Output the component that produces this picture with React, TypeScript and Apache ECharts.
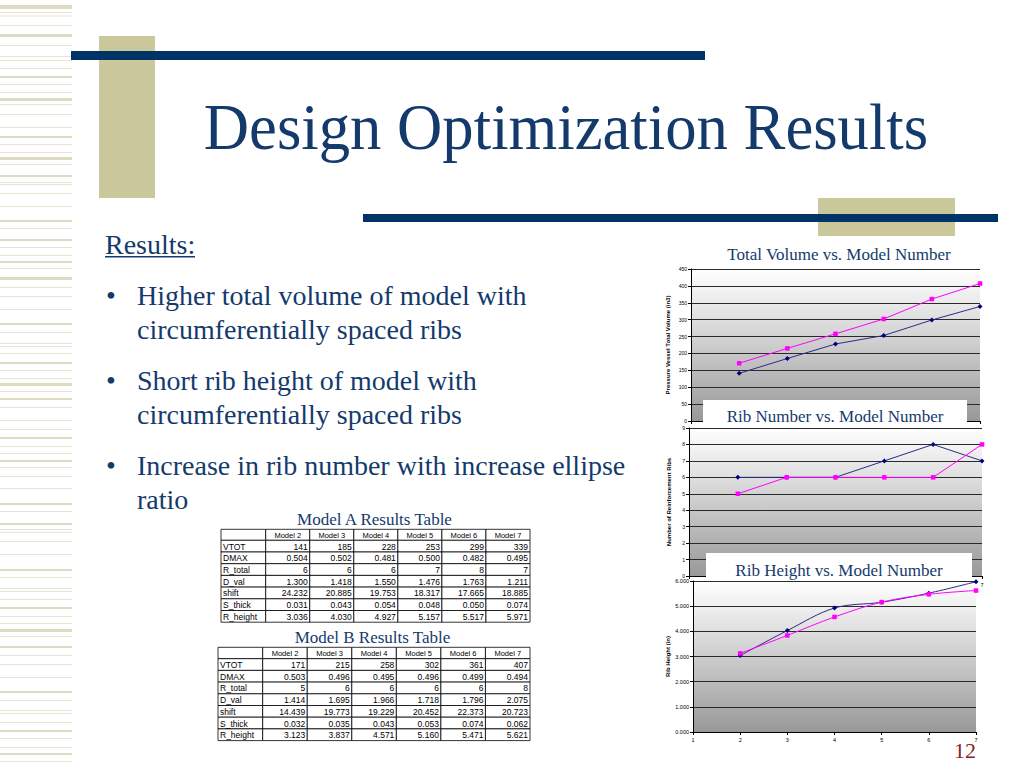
import React, { useEffect, useRef } from "react";
import * as echarts from "echarts";

// ---------- data ----------
const modelNumbers = [2, 3, 4, 5, 6, 7];
const tableHeaders = ["Model 2", "Model 3", "Model 4", "Model 5", "Model 6", "Model 7"];
const rowLabels = ["VTOT", "DMAX", "R_total", "D_val", "shift", "S_thick", "R_height"];
const rowDecimals = [0, 3, 0, 3, 3, 3, 3];

const aVTOT = [141, 185, 228, 253, 299, 339];
const aDMAX = [0.504, 0.502, 0.481, 0.5, 0.482, 0.495];
const aRtotal = [6, 6, 6, 7, 8, 7];
const aDval = [1.3, 1.418, 1.55, 1.476, 1.763, 1.211];
const aShift = [24.232, 20.885, 19.753, 18.317, 17.665, 18.885];
const aSthick = [0.031, 0.043, 0.054, 0.048, 0.05, 0.074];
const aRheight = [3.036, 4.03, 4.927, 5.157, 5.517, 5.971];

const bVTOT = [171, 215, 258, 302, 361, 407];
const bDMAX = [0.503, 0.496, 0.495, 0.496, 0.499, 0.494];
const bRtotal = [5, 6, 6, 6, 6, 8];
const bDval = [1.414, 1.695, 1.966, 1.718, 1.796, 2.075];
const bShift = [14.439, 19.773, 19.229, 20.452, 22.373, 20.723];
const bSthick = [0.032, 0.035, 0.043, 0.053, 0.074, 0.062];
const bRheight = [3.123, 3.837, 4.571, 5.16, 5.471, 5.621];

const slideTitle = "Design Optimization Results";
const resultsHeading = "Results:";
const bulletLines = [
  ["Higher total volume of model with", "circumferentially spaced ribs"],
  ["Short rib height of model with", "circumferentially spaced ribs"],
  ["Increase in rib number with increase ellipse", "ratio"],
];
const chartTitles = ["Total Volume vs. Model Number", "Rib Number vs. Model Number", "Rib Height vs. Model Number"];
const axisNames = ["Pressure Vessel Total Volume (in3)", "Number of Reinforcement Ribs", "Rib Height (in)"];
const tableTitles = ["Model A Results Table", "Model B Results Table"];
const pageNumber = "12";

// ---------- decoration (left stripes) ----------
const stripes: [number, number][] = [
  [5, 4], [12, 1], [15.5, 1], [25, 1], [34, 3], [45, 1], [56, 1], [60, 1], [68, 1], [76, 2], [84, 1], [92, 1],
  [98, 3], [104, 1], [114, 1], [127, 1], [136, 2], [144, 1], [152, 1], [157, 3], [164, 1], [175, 2], [182, 1],
  [184, 1], [193, 1], [206, 1], [220, 2], [228, 1], [239, 2], [247, 1], [255, 1], [261, 2], [268, 1], [277, 3],
  [287, 1], [296, 1], [309, 1], [323, 2], [332, 1], [343, 1], [346, 1], [353, 1], [362, 2], [370, 1], [378, 1],
  [383, 3], [391, 1], [398, 2], [407, 1], [420, 1], [429, 1], [437, 2], [446, 1], [453, 1], [460, 2], [467, 1],
  [476, 1], [488, 1], [503, 2], [511, 1], [523, 2], [529, 1], [532, 1], [541, 1], [554, 1], [569, 2], [577, 1],
  [588, 1], [591, 1], [599, 1], [607, 2], [616, 1], [623, 1], [629, 3], [636, 1], [646, 2], [655, 1], [664, 1],
  [677, 1], [691, 2], [700, 1], [710, 1], [713, 1], [722, 1], [730, 2], [738, 1], [747, 1], [753, 2], [761, 1],
];

const NAVY_TEXT = "#143a6c";
const NAVY_BAR = "#003366";
const BEIGE = "#cbc99c";
const SERIF = "'Liberation Serif', 'Times New Roman', serif";
const SANS = "'Liberation Sans', Arial, sans-serif";

function fmt(v: number, d: number) {
  return v.toFixed(d);
}

function buildTable(
  x0: number,
  firstW: number,
  colW: number,
  top: number,
  headH: number,
  rowH: number,
  rows: number[][]
) {
  const els: any[] = [];
  const cellStyle = { fill: "#ffffff", stroke: "#000000", lineWidth: 0.8 };
  els.push({ type: "rect", shape: { x: x0, y: top, width: firstW, height: headH }, style: cellStyle });
  tableHeaders.forEach((h, j) => {
    const cx = x0 + firstW + j * colW;
    els.push({ type: "rect", shape: { x: cx, y: top, width: colW, height: headH }, style: cellStyle });
    els.push({
      type: "text",
      x: cx + colW / 2,
      y: top + headH / 2 + 0.5,
      style: { text: h, fontSize: 7.5, fontFamily: SANS, fill: "#000", align: "center", verticalAlign: "middle" },
    });
  });
  rows.forEach((vals, i) => {
    const ry = top + headH + i * rowH;
    els.push({ type: "rect", shape: { x: x0, y: ry, width: firstW, height: rowH }, style: cellStyle });
    els.push({
      type: "text",
      x: x0 + 2,
      y: ry + rowH / 2 + 0.5,
      style: { text: rowLabels[i], fontSize: 8.5, fontFamily: SANS, fill: "#000", align: "left", verticalAlign: "middle" },
    });
    vals.forEach((v, j) => {
      const cx = x0 + firstW + j * colW;
      els.push({ type: "rect", shape: { x: cx, y: ry, width: colW, height: rowH }, style: cellStyle });
      els.push({
        type: "text",
        x: cx + colW - 2,
        y: ry + rowH / 2 + 0.5,
        style: {
          text: fmt(v, rowDecimals[i]),
          fontSize: 8.5,
          fontFamily: SANS,
          fill: "#000",
          align: "right",
          verticalAlign: "middle",
        },
      });
    });
  });
  return els;
}

export default function App() {
  const ref = useRef<HTMLDivElement>(null);

  useEffect(() => {
    document.body.style.margin = "0";
    if (!ref.current) return;
    const chart = echarts.init(ref.current, undefined, { renderer: "svg" });

    const grad = {
      type: "linear",
      x: 0,
      y: 0,
      x2: 0,
      y2: 1,
      colorStops: [
        { offset: 0, color: "#ffffff" },
        { offset: 0.3, color: "#e2e2e2" },
        { offset: 1, color: "#989898" },
      ],
    };

    const grids = [
      { left: 691, top: 269, width: 289, height: 152 },
      { left: 689, top: 428, width: 293, height: 148 },
      { left: 693, top: 581, width: 283, height: 151 },
    ].map((g) => ({ ...g, show: true, backgroundColor: grad, borderWidth: 0, containLabel: false }));

    const yRanges = [
      { min: 0, max: 450, interval: 50, dec: 0, gap: 20 },
      { min: 0, max: 9, interval: 1, dec: 0, gap: 17 },
      { min: 0, max: 6, interval: 1, dec: 3, gap: 21 },
    ];

    const xAxes = [0, 1, 2].map((i) => ({
      type: "value",
      gridIndex: i,
      min: 1,
      max: 7,
      interval: 1,
      axisLine: { show: true, lineStyle: { color: "#000", width: 1 } },
      axisTick: { show: true, length: 3, lineStyle: { color: "#000" } },
      splitLine: { show: false },
      axisLabel: { show: i === 2, fontSize: 5.5, fontFamily: SANS, color: "#000", margin: 5 },
    }));

    const yAxes = yRanges.map((r, i) => ({
      type: "value",
      gridIndex: i,
      min: r.min,
      max: r.max,
      interval: r.interval,
      name: axisNames[i],
      nameLocation: "middle",
      nameRotate: 90,
      nameGap: r.gap,
      nameTextStyle: { fontSize: 6, fontWeight: "bold", fontFamily: SANS, color: "#000" },
      axisLine: { show: true, lineStyle: { color: "#000", width: 1 } },
      axisTick: { show: true, length: 3, lineStyle: { color: "#000" } },
      splitLine: { show: true, lineStyle: { color: "#2a2a2a", width: 1 } },
      axisLabel: {
        fontSize: i === 2 ? 5.5 : 5,
        fontFamily: SANS,
        color: "#000",
        margin: 4,
        formatter: (v: number) => v.toFixed(r.dec),
      },
    }));

    const seriesPairs = [
      [aVTOT, bVTOT],
      [aRtotal, bRtotal],
      [aRheight, bRheight],
    ];
    const series: any[] = [];
    seriesPairs.forEach(([a, b], i) => {
      series.push({
        type: "line",
        name: "Model A",
        xAxisIndex: i,
        yAxisIndex: i,
        data: modelNumbers.map((m, k) => [m, a[k]]),
        smooth: i === 2 ? 0.35 : false,
        symbol: "diamond",
        symbolSize: 5,
        lineStyle: { color: "#2b2b86", width: 1 },
        itemStyle: { color: "#000080" },
        z: 3,
      });
      series.push({
        type: "line",
        name: "Model B",
        xAxisIndex: i,
        yAxisIndex: i,
        data: modelNumbers.map((m, k) => [m, b[k]]),
        smooth: i === 2 ? 0.35 : false,
        symbol: "rect",
        symbolSize: 4.5,
        lineStyle: { color: "#ff00ff", width: 1 },
        itemStyle: { color: "#ff00ff" },
        z: 4,
      });
    });

    const graphics: any[] = [];
    stripes.forEach(([y, h]) => {
      graphics.push({
        type: "rect",
        shape: { x: 0, y, width: 72, height: h },
        style: { fill: h >= 2 ? "#dddcc2" : "#e6e5d3" },
      });
    });
    graphics.push({ type: "rect", shape: { x: 99, y: 36, width: 56, height: 162 }, style: { fill: BEIGE } });
    graphics.push({ type: "rect", shape: { x: 71, y: 51, width: 634, height: 9 }, style: { fill: NAVY_BAR } });
    graphics.push({ type: "rect", shape: { x: 818, y: 198, width: 137, height: 38 }, style: { fill: BEIGE } });
    graphics.push({ type: "rect", shape: { x: 363, y: 214, width: 635, height: 8 }, style: { fill: NAVY_BAR } });

    graphics.push({
      type: "text",
      x: 566,
      y: 127,
      scaleX: 0.95,
      style: { text: slideTitle, fontSize: 66, fontFamily: SERIF, fill: NAVY_TEXT, align: "center", verticalAlign: "middle" },
    });
    graphics.push({
      type: "text",
      x: 105,
      y: 244,
      style: { text: resultsHeading, fontSize: 28, fontFamily: SERIF, fill: NAVY_TEXT, align: "left", verticalAlign: "middle" },
    });
    graphics.push({ type: "rect", shape: { x: 105, y: 256, width: 90, height: 1.5 }, style: { fill: NAVY_TEXT } });

    const bulletY = [295, 380, 465];
    bulletLines.forEach((lines, i) => {
      graphics.push({
        type: "text",
        x: 111,
        y: bulletY[i],
        style: { text: "•", fontSize: 28, fontFamily: SERIF, fill: NAVY_TEXT, align: "center", verticalAlign: "middle" },
      });
      lines.forEach((t, k) => {
        graphics.push({
          type: "text",
          x: 137,
          y: bulletY[i] + k * 34,
          style: { text: t, fontSize: 28, fontFamily: SERIF, fill: NAVY_TEXT, align: "left", verticalAlign: "middle" },
        });
      });
    });

    graphics.push({ type: "rect", z: 50, shape: { x: 703, y: 400, width: 264, height: 27.5 }, style: { fill: "#ffffff" } });
    graphics.push({ type: "rect", z: 50, shape: { x: 706, y: 553, width: 266, height: 27.5 }, style: { fill: "#ffffff" } });
    const chartTitlePos = [
      [839, 254.5],
      [835, 416],
      [839, 570],
    ];
    chartTitles.forEach((t, i) => {
      graphics.push({
        type: "text",
        z: 51,
        x: chartTitlePos[i][0],
        y: chartTitlePos[i][1],
        style: { text: t, fontSize: 17, fontFamily: SERIF, fill: NAVY_TEXT, align: "center", verticalAlign: "middle" },
      });
    });
    graphics.push({
      type: "text",
      z: 51,
      x: 982,
      y: 585,
      style: { text: "7", fontSize: 5.5, fontFamily: SANS, fill: "#000", align: "center", verticalAlign: "middle" },
    });

    const tableTitlePos = [
      [374.5, 519.5],
      [372.5, 637.5],
    ];
    tableTitles.forEach((t, i) => {
      graphics.push({
        type: "text",
        x: tableTitlePos[i][0],
        y: tableTitlePos[i][1],
        style: { text: t, fontSize: 17, fontFamily: SERIF, fill: NAVY_TEXT, align: "center", verticalAlign: "middle" },
      });
    });
    const rowsA = [aVTOT, aDMAX, aRtotal, aDval, aShift, aSthick, aRheight];
    const rowsB = [bVTOT, bDMAX, bRtotal, bDval, bShift, bSthick, bRheight];
    graphics.push(...buildTable(221, 44.7, 44.05, 529.3, 11, 11.7, rowsA));
    graphics.push(...buildTable(218, 44.7, 44.55, 647.3, 11.4, 11.7, rowsB));

    graphics.push({
      type: "text",
      x: 965,
      y: 750,
      style: { text: pageNumber, fontSize: 22, fontFamily: SERIF, fill: "#8b1c1c", align: "center", verticalAlign: "middle" },
    });

    chart.setOption({
      animation: false,
      backgroundColor: "#ffffff",
      grid: grids,
      xAxis: xAxes,
      yAxis: yAxes,
      series,
      graphic: { elements: graphics },
    });

    return () => chart.dispose();
  }, []);

  return <div ref={ref} style={{ width: 1024, height: 768 }} />;
}
